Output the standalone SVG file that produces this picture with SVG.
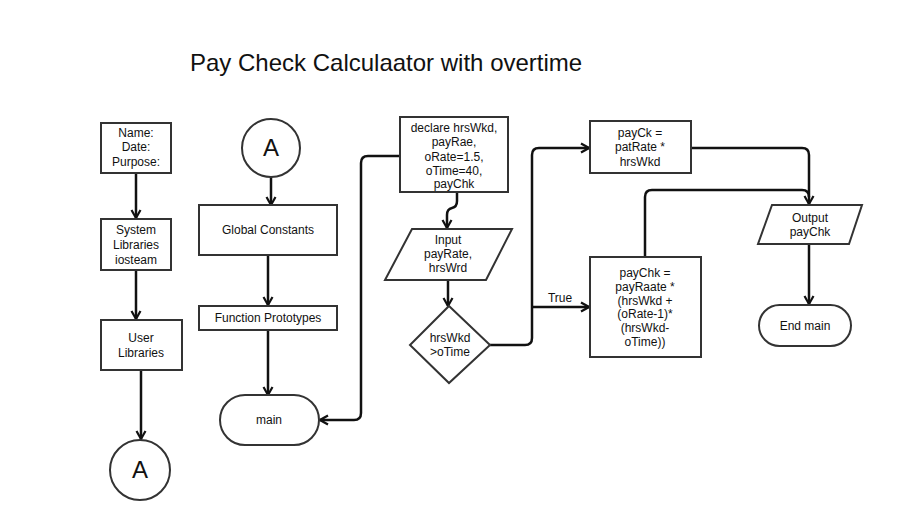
<svg xmlns="http://www.w3.org/2000/svg" width="917" height="520" viewBox="0 0 917 520">
<style>
.box{fill:#fff;stroke:#333;stroke-width:2}
.t{font-family:"Liberation Sans",Arial,sans-serif;font-size:12px;fill:#111;text-anchor:middle}
.big{font-family:"Liberation Sans",Arial,sans-serif;font-size:24px;fill:#111;text-anchor:middle}
.title{font-family:"Liberation Sans",Arial,sans-serif;font-size:24px;fill:#111}
.c{fill:none;stroke:#111;stroke-width:2.5;marker-end:url(#ah)}
.cn{fill:none;stroke:#111;stroke-width:2.5}
</style>
<defs>
<marker id="ah" markerUnits="userSpaceOnUse" viewBox="0 0 12 12" refX="10" refY="6" markerWidth="12" markerHeight="12" orient="auto">
<path d="M2,1.5 L10,6 L2,10.5" fill="none" stroke="#111" stroke-width="2.2"/>
</marker>
</defs>
<rect width="917" height="520" fill="#fff"/>
<text class="title" x="190" y="71">Pay Check Calculaator with overtime</text>

<g id="connectors">
<path class="c" d="M136,173 V218"/>
<path class="c" d="M136,270 V319"/>
<path class="c" d="M141,370 V439"/>
<path class="c" d="M271,177 V205"/>
<path class="c" d="M268,254 V305"/>
<path class="c" d="M268,330 V395"/>
<path class="c" d="M400,156 H368 Q361,156 361,163 V413 Q361,420 354,420 H320"/>
<path class="c" d="M457,192 V201 Q457,207 452,208 Q447,209 447,215 V228"/>
<path class="c" d="M448,280 V306"/>
<path class="c" d="M490,345 H525 Q532,345 532,338 V155 Q532,148 539,148 H589"/>
<path class="c" d="M532,307 H589"/>
<text class="t" x="560" y="302">True</text>
<path class="c" d="M691,148 H802 Q809,148 809,155 V204"/>
<path class="cn" d="M645,257 V197 Q645,190 652,190 H802 Q809,190 809,197"/>
<path class="c" d="M809,244 V304"/>
</g>

<g id="n-header">
<rect class="box" x="101" y="123" width="70" height="50"/>
<text class="t" x="136" y="137">Name:</text>
<text class="t" x="136" y="151">Date:</text>
<text class="t" x="136" y="166">Purpose:</text>
</g>
<g id="n-syslib">
<rect class="box" x="101" y="219" width="70" height="51"/>
<text class="t" x="136" y="234">System</text>
<text class="t" x="136" y="249">Libraries</text>
<text class="t" x="136" y="264">iosteam</text>
</g>
<g id="n-userlib">
<rect class="box" x="101" y="320" width="81" height="50"/>
<text class="t" x="141" y="342">User</text>
<text class="t" x="141" y="357">Libraries</text>
</g>
<g id="n-a1">
<circle class="box" cx="140" cy="470" r="30"/>
<text class="big" x="140" y="478">A</text>
</g>
<g id="n-a2">
<circle class="box" cx="271" cy="148" r="29"/>
<text class="big" x="271" y="156">A</text>
</g>
<g id="n-global">
<rect class="box" x="199" y="205" width="138" height="50"/>
<text class="t" x="268" y="234">Global Constants</text>
</g>
<g id="n-proto">
<rect class="box" x="199" y="306" width="138" height="24"/>
<text class="t" x="268" y="322">Function Prototypes</text>
</g>
<g id="n-main">
<rect class="box" x="220" y="395" width="99" height="50" rx="25"/>
<text class="t" x="269" y="424">main</text>
</g>
<g id="n-declare">
<rect class="box" x="400" y="117" width="108" height="75"/>
<text class="t" x="454" y="132">declare hrsWkd,</text>
<text class="t" x="454" y="146">payRae,</text>
<text class="t" x="454" y="161">oRate=1.5,</text>
<text class="t" x="454" y="175">oTime=40,</text>
<text class="t" x="454" y="188">payChk</text>
</g>
<g id="n-input">
<polygon class="box" points="412,229 512,229 486,280 385,280"/>
<text class="t" x="448" y="244">Input</text>
<text class="t" x="448" y="258">payRate,</text>
<text class="t" x="448" y="272">hrsWrd</text>
</g>
<g id="n-decision">
<polygon class="box" points="449,306 490,345 449,383 410,345"/>
<text class="t" x="450" y="342">hrsWkd</text>
<text class="t" x="450" y="356">&gt;oTime</text>
</g>
<g id="n-payck">
<rect class="box" x="590" y="121" width="101" height="52"/>
<text class="t" x="640" y="137">payCk =</text>
<text class="t" x="640" y="151">patRate *</text>
<text class="t" x="640" y="166">hrsWkd</text>
</g>
<g id="n-paychk">
<rect class="box" x="590" y="257" width="111" height="100"/>
<text class="t" x="645" y="277">payChk  =</text>
<text class="t" x="645" y="291">payRaate *</text>
<text class="t" x="645" y="305">(hrsWkd +</text>
<text class="t" x="645" y="318">(oRate-1)*</text>
<text class="t" x="645" y="332">(hrsWkd-</text>
<text class="t" x="645" y="346">oTime))</text>
</g>
<g id="n-output">
<polygon class="box" points="772,205 862,205 849,244 758,244"/>
<text class="t" x="810" y="222">Output</text>
<text class="t" x="810" y="236">payChk</text>
</g>
<g id="n-end">
<rect class="box" x="759" y="305" width="92" height="41" rx="20.5"/>
<text class="t" x="805" y="330">End main</text>
</g>
</svg>
